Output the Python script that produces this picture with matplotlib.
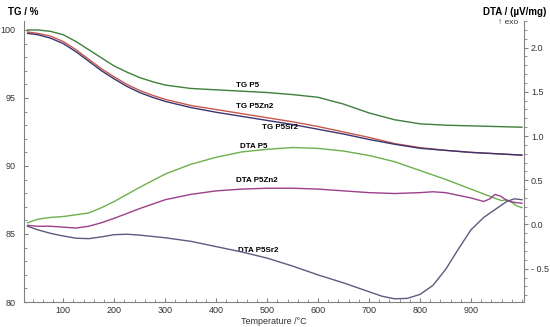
import numpy as np
import matplotlib
matplotlib.use("Agg")
import matplotlib.pyplot as plt
from matplotlib.ticker import MultipleLocator

plt.rcParams['font.family'] = ['Liberation Sans', 'DejaVu Sans']

# TG curves (left axis, %)
t_tg = [30, 50, 75, 100, 125, 150, 175, 200, 225, 250, 275, 300, 350, 400, 450, 500,
        550, 600, 650, 700, 750, 800, 850, 900, 950, 1000]
tg_p5 = [100.0, 100.0, 99.9, 99.65, 99.15, 98.55, 97.95, 97.35, 96.9, 96.5, 96.2, 95.95, 95.7,
         95.6, 95.5, 95.4, 95.25, 95.05, 94.55, 93.9, 93.4, 93.1, 93.0, 92.95, 92.9, 92.85]
tg_p5zn2 = [99.85, 99.75, 99.55, 99.15, 98.55, 97.85, 97.15, 96.55, 96.0, 95.55, 95.2, 94.9, 94.45,
            94.15, 93.85, 93.55, 93.25, 92.9, 92.5, 92.1, 91.65, 91.35, 91.15, 91.0, 90.9, 90.8]
tg_p5sr2 = [99.75, 99.65, 99.4, 99.0, 98.4, 97.7, 97.0, 96.4, 95.85, 95.4, 95.05, 94.75, 94.3,
            93.95, 93.65, 93.35, 93.05, 92.7, 92.35, 91.95, 91.6, 91.3, 91.15, 91.0, 90.9, 90.8]

# DTA curves (right axis, uV/mg)
t_dta_p5 = [30, 50, 75, 100, 125, 150, 175, 200, 250, 300, 350, 400, 450, 500, 550, 600, 650,
            700, 750, 800, 850, 900, 950, 960, 970, 980, 990, 1000]
dta_p5 = [0.02, 0.06, 0.08, 0.09, 0.11, 0.13, 0.19, 0.26, 0.42, 0.57, 0.68, 0.76, 0.82, 0.85,
          0.87, 0.86, 0.83, 0.78, 0.71, 0.61, 0.51, 0.40, 0.29, 0.27, 0.28, 0.25, 0.21, 0.19]
t_dta_zn = [30, 50, 75, 100, 125, 150, 175, 200, 250, 300, 350, 400, 450, 500, 550, 600, 650,
            700, 750, 800, 825, 850, 875, 900, 925, 937, 947, 958, 971, 985, 1000]
dta_p5zn2 = [-0.01, -0.02, -0.02, -0.03, -0.04, -0.02, 0.02, 0.07, 0.18, 0.28, 0.34, 0.38, 0.40,
             0.41, 0.41, 0.40, 0.38, 0.36, 0.35, 0.36, 0.37, 0.36, 0.33, 0.30, 0.26, 0.29, 0.34,
             0.32, 0.27, 0.25, 0.24]
t_dta_sr = [30, 50, 75, 100, 125, 150, 175, 200, 225, 250, 300, 350, 400, 450, 500, 550, 600,
            650, 700, 725, 750, 775, 800, 825, 850, 875, 900, 925, 950, 970, 985, 1000]
dta_p5sr2 = [-0.02, -0.06, -0.10, -0.13, -0.155, -0.16, -0.14, -0.115, -0.11, -0.12, -0.15, -0.19,
             -0.25, -0.31, -0.38, -0.47, -0.57, -0.66, -0.76, -0.81, -0.84, -0.835, -0.79, -0.69,
             -0.51, -0.28, -0.06, 0.08, 0.18, 0.26, 0.29, 0.28]

labels = [("TG P5", 461, 95.9), ("TG P5Zn2", 476, 94.35), ("TG P5Sr2", 525, 92.85),
          ("DTA P5", 473, 91.45), ("DTA P5Zn2", 480, 88.9), ("DTA P5Sr2", 482, 83.8)]

fig = plt.figure(figsize=(5.5, 3.27), dpi=100)
ax = fig.add_axes([24/550, 25/327, 500/550, 281/327])
ax2 = ax.twinx()

ax.plot(t_tg, tg_p5, color='#3f7f3a', lw=1.0)
ax.plot(t_tg, tg_p5zn2, color='#c8574a', lw=1.0)
ax.plot(t_tg, tg_p5sr2, color='#3b3470', lw=1.0)
ax2.plot(t_dta_p5, dta_p5, color='#6cb04e', lw=1.0)
ax2.plot(t_dta_zn, dta_p5zn2, color='#9c3f8c', lw=1.0)
ax2.plot(t_dta_sr, dta_p5sr2, color='#5d5a80', lw=1.0)

ax.set_xlim(23, 1004)
ax.set_ylim(80, 100.66)
ax2.set_ylim(-0.876, 2.30)

gray = '#808080'
for a in (ax, ax2):
  for s in a.spines.values():
    s.set_color(gray)
    s.set_linewidth(0.8)
  a.spines['top'].set_visible(False)
ax.spines['right'].set_visible(False)
ax2.spines['left'].set_visible(False)
ax2.spines['bottom'].set_visible(False)

ax.set_xticks(range(100, 1000, 100))
ax.xaxis.set_minor_locator(MultipleLocator(20))
ax.set_yticks([80, 85, 90, 95, 100])
ax.yaxis.set_minor_locator(MultipleLocator(1))
ax2.set_yticks([-0.5, 0, 0.5, 1.0, 1.5, 2.0])
ax2.set_yticklabels(['- 0.5', '0.0', '0.5', '1.0', '1.5', '2.0'])
ax2.yaxis.set_minor_locator(MultipleLocator(0.1))

ax.tick_params(axis='x', which='major', direction='in', length=3, color=gray, labelsize=6.5,
               labelcolor='#333333', pad=3)
ax.tick_params(axis='x', which='minor', direction='in', length=2, color=gray)
ax.tick_params(axis='y', which='major', direction='in', length=3, color=gray, labelsize=6.5,
               labelcolor='#333333', pad=6)
ax.tick_params(axis='y', which='minor', direction='in', length=2, color=gray)
ax2.tick_params(axis='y', which='major', direction='out', length=3, color=gray, labelsize=6.5,
                labelcolor='#333333', pad=2)
ax2.tick_params(axis='y', which='minor', direction='out', length=2, color=gray)

ax.set_xlabel('Temperature /°C', fontsize=6.5, color='#333333', labelpad=1)

fig.text(8/550, 1-12/327, 'TG / %', fontsize=7, fontweight='bold', va='center', ha='left')
fig.text(546/550, 1-12/327, 'DTA / (µV/mg)', fontsize=7, fontweight='bold', va='center', ha='right')
fig.text(508/550, 1-22/327, '↑ exo', fontsize=6, va='center', ha='center', color='#333333')

for txt, x, y in labels:
  ax.text(x, y, txt, fontsize=5.8, fontweight='bold', ha='center', va='center')

fig.savefig('out.png', dpi=100)
